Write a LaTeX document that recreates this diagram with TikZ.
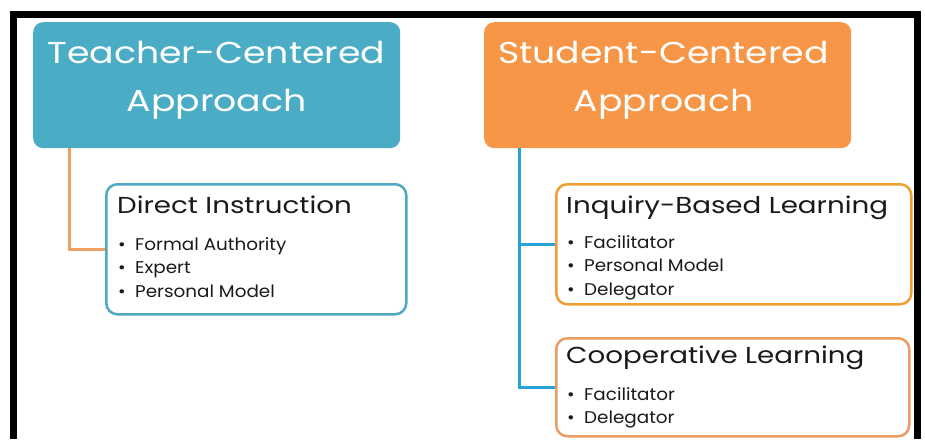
\documentclass[tikz,border=0pt]{standalone}
\usepackage{fontspec}
\setmainfont{Poppins}
\newfontfamily\widefont[FakeStretch=1.2]{Poppins}
\newfontfamily\listfont[FakeStretch=1.08]{Poppins}
\definecolor{tealfill}{HTML}{4BACC6}
\definecolor{orangefill}{HTML}{F79646}
\definecolor{tealedge}{HTML}{4FA9C2}
\definecolor{goldedge}{HTML}{F0A032}
\definecolor{peachedge}{HTML}{EB9C62}
\definecolor{linkblue}{HTML}{27A2DB}
\definecolor{linkorange}{HTML}{F0A060}
\definecolor{ink}{HTML}{1A1A1A}
\tikzset{
  headbox/.style={rounded corners=10pt, minimum width=367pt, minimum height=126pt,
    inner sep=0pt, anchor=north west, draw=none},
  headtext/.style={text=white, inner sep=0pt, anchor=base,
    font=\widefont\fontsize{30.2}{48}\selectfont},
  subbox/.style={rounded corners=11pt, line width=2.5pt, fill=white,
    inner sep=0pt, anchor=north west},
  subtitle/.style={text=ink, inner sep=0pt, anchor=base west,
    font=\widefont\fontsize{23.1}{26}\selectfont},
  sublist/.style={text=ink, inner sep=0pt, anchor=base west,
    font=\listfont\fontsize{17}{23.5}\selectfont},
  link/.style={line width=3pt},
  frame/.style={line width=7pt, black, line join=miter}
}
\newcommand{\bul}[1]{\makebox[17pt][l]{\textbullet}#1}
\begin{document}
\begin{tikzpicture}[x=1pt,y=-1pt]
  \useasboundingbox (0,0) rectangle (925,439);
  \fill[white] (0,0) rectangle (925,439);

  % outer frame, open at the bottom
  \draw[frame] (13.5,439) -- (13.5,14.5) -- (917,14.5) -- (917,439);

  % approach headers
  \node[headbox, fill=tealfill]   (tc) at (33,22)  {};
  \node[headbox, fill=orangefill] (sc) at (484,22) {};
  \node[headtext] (tcT) at (216.5,63) {\begin{tabular}[t]{@{}c@{}}Teacher-Centered\\Approach\end{tabular}};
  \node[headtext] (scT) at (663.5,63) {\begin{tabular}[t]{@{}c@{}}Student-Centered\\Approach\end{tabular}};

  % method boxes
  \node[subbox, draw=tealedge,  minimum width=300pt, minimum height=130pt] (di) at (105,183) {};
  \node[subbox, draw=goldedge,  minimum width=355pt, minimum height=120pt] (ib) at (555,183) {};
  \node[subbox, draw=peachedge, minimum width=353pt, minimum height=98pt]  (cl) at (555,337) {};

  % titles and roles
  \node[subtitle] (diT) at (117,213) {Direct Instruction};
  \node[sublist]  (diL) at (118,250) {\begin{tabular}[t]{@{}l@{}}
      \bul{Formal Authority}\\ \bul{Expert}\\ \bul{Personal Model}\end{tabular}};
  \node[subtitle] (ibT) at (566,213) {Inquiry-Based Learning};
  \node[sublist]  (ibL) at (567,248) {\begin{tabular}[t]{@{}l@{}}
      \bul{Facilitator}\\ \bul{Personal Model}\\ \bul{Delegator}\end{tabular}};
  \node[subtitle] (clT) at (566,363) {Cooperative Learning};
  \node[sublist]  (clL) at (567,400) {\begin{tabular}[t]{@{}l@{}}
      \bul{Facilitator}\\ \bul{Delegator}\end{tabular}};

  % connectors
  \draw[link, linkorange] ([xshift=36pt]tc.south west) |- (di.west);
  \draw[link, linkblue]   ([xshift=35pt]sc.south west) |- (ib.west);
  \draw[link, linkblue]   ([xshift=35pt]sc.south west) |- (cl.west);
\end{tikzpicture}
\end{document}
